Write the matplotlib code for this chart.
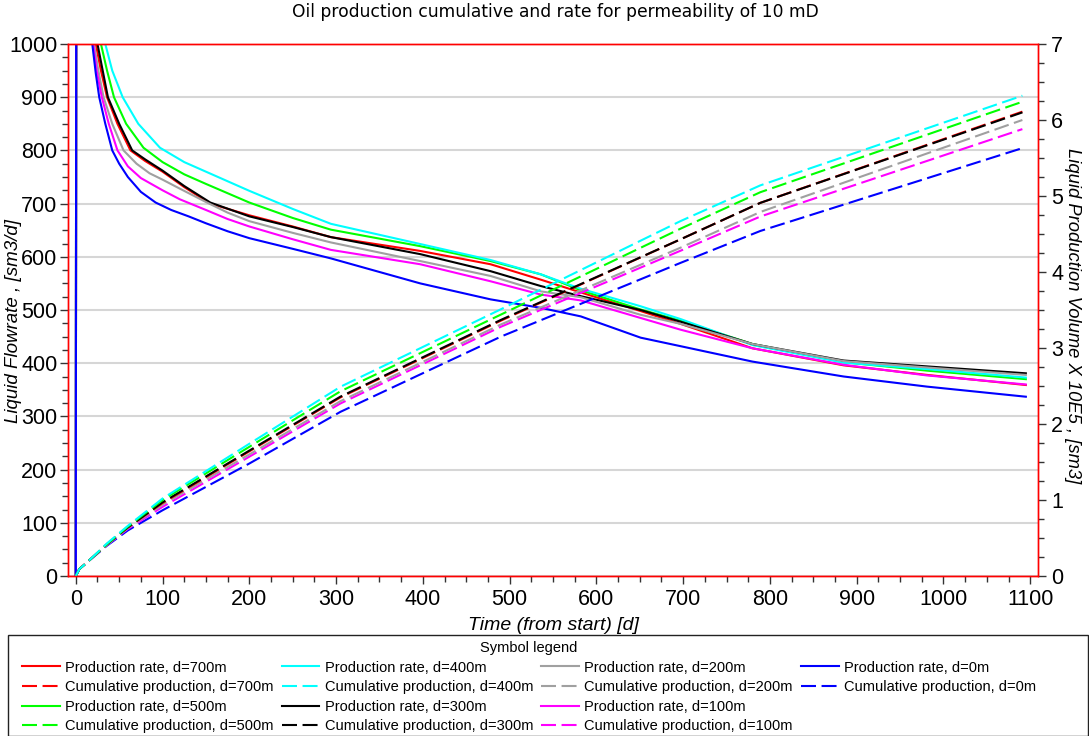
import matplotlib.pyplot as plt
from matplotlib.ticker import MultipleLocator
from matplotlib.lines import Line2D
from matplotlib.patches import Rectangle

plt.rcParams['font.family'] = ['Liberation Sans', 'DejaVu Sans']
plt.rcParams['lines.scale_dashes'] = False

# Liquid flowrate [sm3/d] per well distance d, sampled in time [d]
rate_t_d0 = [0, 1, 19, 23, 27, 34, 42, 50, 60, 75, 92, 110, 130, 150, 175, 200, 250, 294, 397, 478, 536, 582, 620, 651, 697, 780, 885, 981, 1095]
rate_d0 = [0, 2500, 1000, 945, 900, 850, 800, 775, 750, 722, 702, 688, 676, 663, 648, 635, 615, 597, 550, 520, 504, 488, 466, 448, 432, 403, 375, 356, 337]

rate_t_d100 = [0, 1, 20, 24, 30, 38, 48, 60, 75, 100, 120, 150, 175, 200, 250, 294, 397, 478, 536, 582, 651, 697, 780, 885, 981, 1095]
rate_d100 = [0, 2500, 1000, 950, 900, 850, 800, 770, 748, 725, 708, 688, 671, 657, 633, 613, 586, 554, 529, 518, 485, 463, 428, 397, 377, 360]

rate_t_d200 = [0, 1, 21, 26, 32, 42, 55, 70, 85, 100, 120, 150, 175, 200, 250, 294, 397, 478, 536, 582, 651, 697, 780, 885, 981, 1095]
rate_d200 = [0, 2500, 1000, 950, 900, 850, 800, 775, 757, 745, 728, 703, 683, 667, 645, 627, 592, 564, 535, 524, 491, 474, 436, 404, 392, 378]

rate_t_d300 = [0, 1, 25, 31, 37, 50, 65, 80, 100, 125, 155, 200, 250, 294, 397, 478, 536, 582, 651, 697, 780, 885, 981, 1095]
rate_d300 = [0, 2500, 1000, 950, 900, 850, 800, 783, 762, 733, 702, 676, 656, 637, 605, 573, 545, 526, 500, 478, 436, 405, 394, 381]

rate_t_d400 = [0, 1, 34, 42, 54, 72, 97, 125, 150, 200, 250, 294, 397, 478, 536, 582, 651, 697, 780, 885, 981, 1095]
rate_d400 = [0, 2500, 1000, 950, 900, 850, 805, 778, 760, 724, 690, 662, 624, 594, 567, 540, 507, 483, 434, 401, 389, 373]

rate_t_d500 = [0, 1, 29, 36, 44, 58, 78, 100, 125, 150, 200, 250, 294, 397, 478, 536, 582, 651, 697, 780, 885, 981, 1095]
rate_d500 = [0, 2500, 1000, 950, 900, 850, 805, 778, 755, 737, 702, 673, 651, 620, 592, 567, 537, 501, 480, 436, 402, 386, 370]

rate_t_d700 = [0, 1, 23, 29, 36, 48, 63, 80, 100, 125, 155, 200, 250, 294, 397, 478, 536, 582, 651, 697, 780, 885, 981, 1095]
rate_d700 = [0, 2500, 1000, 950, 900, 850, 800, 780, 760, 731, 700, 678, 657, 637, 611, 586, 557, 533, 498, 474, 428, 396, 378, 359]

# Cumulative liquid production [x 1e5 sm3]
cum_t = [0, 4, 13, 36, 60, 100, 200, 305, 490, 697, 789, 1091]
cum_d0 = [0, 0.09, 0.18, 0.40, 0.60, 0.865, 1.48, 2.16, 3.15, 4.12, 4.54, 5.63]
cum_d100 = [0, 0.09, 0.18, 0.41, 0.62, 0.91, 1.57, 2.27, 3.28, 4.28, 4.73, 5.88]
cum_d200 = [0, 0.09, 0.18, 0.41, 0.63, 0.94, 1.60, 2.30, 3.31, 4.32, 4.79, 6.00]
cum_d300 = [0, 0.09, 0.18, 0.42, 0.64, 0.97, 1.65, 2.36, 3.37, 4.43, 4.91, 6.10]
cum_d400 = [0, 0.09, 0.18, 0.43, 0.66, 1.02, 1.74, 2.49, 3.51, 4.67, 5.14, 6.32]
cum_d500 = [0, 0.09, 0.18, 0.42, 0.65, 1.00, 1.70, 2.43, 3.44, 4.57, 5.05, 6.24]
cum_d700 = [0, 0.09, 0.18, 0.42, 0.64, 0.96, 1.64, 2.35, 3.36, 4.43, 4.91, 6.11]

fig = plt.figure(figsize=(10.89, 7.36), dpi=100)
ax = fig.add_axes([68 / 1089, 160 / 736, 970 / 1089, 532 / 736])
ax2 = ax.twinx()

lw = 1.5
dash = (0, (10.8, 4.0))

# rates (left axis), blue drawn last so the start spike sits on top
rates = [
    (rate_t_d700, rate_d700, '#ff0000'),
    (rate_t_d500, rate_d500, '#00ff00'),
    (rate_t_d400, rate_d400, '#00ffff'),
    (rate_t_d300, rate_d300, '#000000'),
    (rate_t_d200, rate_d200, '#a0a0a0'),
    (rate_t_d100, rate_d100, '#ff00ff'),
    (rate_t_d0, rate_d0, '#0000ff'),
]
for t, r, c in rates:
    ax.plot(t, r, color=c, lw=lw)

cums = [
    (cum_d0, '#0000ff'),
    (cum_d100, '#ff00ff'),
    (cum_d200, '#a0a0a0'),
    (cum_d700, '#ff0000'),
    (cum_d300, '#000000'),
    (cum_d500, '#00ff00'),
    (cum_d400, '#00ffff'),
]
for v, c in cums:
    ax2.plot(cum_t, v, color=c, lw=lw, linestyle=dash)

ax.set_xlim(-9, 1109)
ax.set_ylim(0, 1000)
ax2.set_ylim(0, 7)

ax.xaxis.set_major_locator(MultipleLocator(100))
ax.xaxis.set_minor_locator(MultipleLocator(25))
ax.yaxis.set_major_locator(MultipleLocator(100))
ax.yaxis.set_minor_locator(MultipleLocator(25))
ax2.yaxis.set_major_locator(MultipleLocator(1))
ax2.yaxis.set_minor_locator(MultipleLocator(0.25))

ax.grid(axis='y', color='#d6d6d6', lw=1.5)
ax.set_axisbelow(True)

for a in (ax, ax2):
    for s in a.spines.values():
        s.set_color('#ff0000')
        s.set_linewidth(1.0)
    a.tick_params(which='major', length=6, width=1, color='#333333', labelsize=15.5)
    a.tick_params(which='minor', length=4, width=1, color='#333333')
ax.tick_params(axis='y', pad=1.5)

ax.set_xlabel('Time (from start) [d]', fontsize=14, style='italic')
ax.xaxis.set_label_coords(0.5, -0.078)
ax.set_ylabel('Liquid Flowrate , [sm3/d]', fontsize=13.5, style='italic',
              family=['Liberation Sans Narrow', 'Liberation Sans'])
ax.yaxis.set_label_coords(-0.047, 0.48)
ax2.set_ylabel('Liquid Production Volume X 10E5 , [sm3]', fontsize=13.2, style='italic', rotation=270)
ax2.yaxis.set_label_coords(1.044, 0.49)

fig.text(0.510, 1 - 12 / 736, 'Oil production cumulative and rate for permeability of 10 mD',
         ha='center', va='center', fontsize=12.3, family='DejaVu Sans')

# legend, filled column by column in rows of four
def h(c, dashed=False):
    return Line2D([], [], color=c, lw=lw, linestyle=dash if dashed else '-')

blank = Line2D([], [], color='none')
handles = [
    h('#ff0000'), h('#ff0000', True), h('#00ff00'), h('#00ff00', True),
    h('#00ffff'), h('#00ffff', True), h('#000000'), h('#000000', True),
    h('#a0a0a0'), h('#a0a0a0', True), h('#ff00ff'), h('#ff00ff', True),
    h('#0000ff'), h('#0000ff', True), blank, blank,
]
labels = [
    'Production rate, d=700m', 'Cumulative production, d=700m',
    'Production rate, d=500m', 'Cumulative production, d=500m',
    'Production rate, d=400m', 'Cumulative production, d=400m',
    'Production rate, d=300m', 'Cumulative production, d=300m',
    'Production rate, d=200m', 'Cumulative production, d=200m',
    'Production rate, d=100m', 'Cumulative production, d=100m',
    'Production rate, d=0m', 'Cumulative production, d=0m', '', '',
]
fig.legend(handles, labels, ncol=4, loc='upper left',
           bbox_to_anchor=(22 / 1089, 1 - 641 / 736),
           borderaxespad=0, borderpad=0, frameon=False, fontsize=10.5,
           title='Symbol legend', title_fontsize=10.5,
           handlelength=2.6, handletextpad=0.35, labelspacing=0.38,
           columnspacing=0.55)

# legend box spanning the width of the figure
fig.patches.append(Rectangle((8 / 1089, 0.5 / 736), 1080 / 1089, 101 / 736,
                             transform=fig.transFigure, fill=False,
                             edgecolor='#222222', lw=1.0))

fig.savefig('out.png', dpi=100)
